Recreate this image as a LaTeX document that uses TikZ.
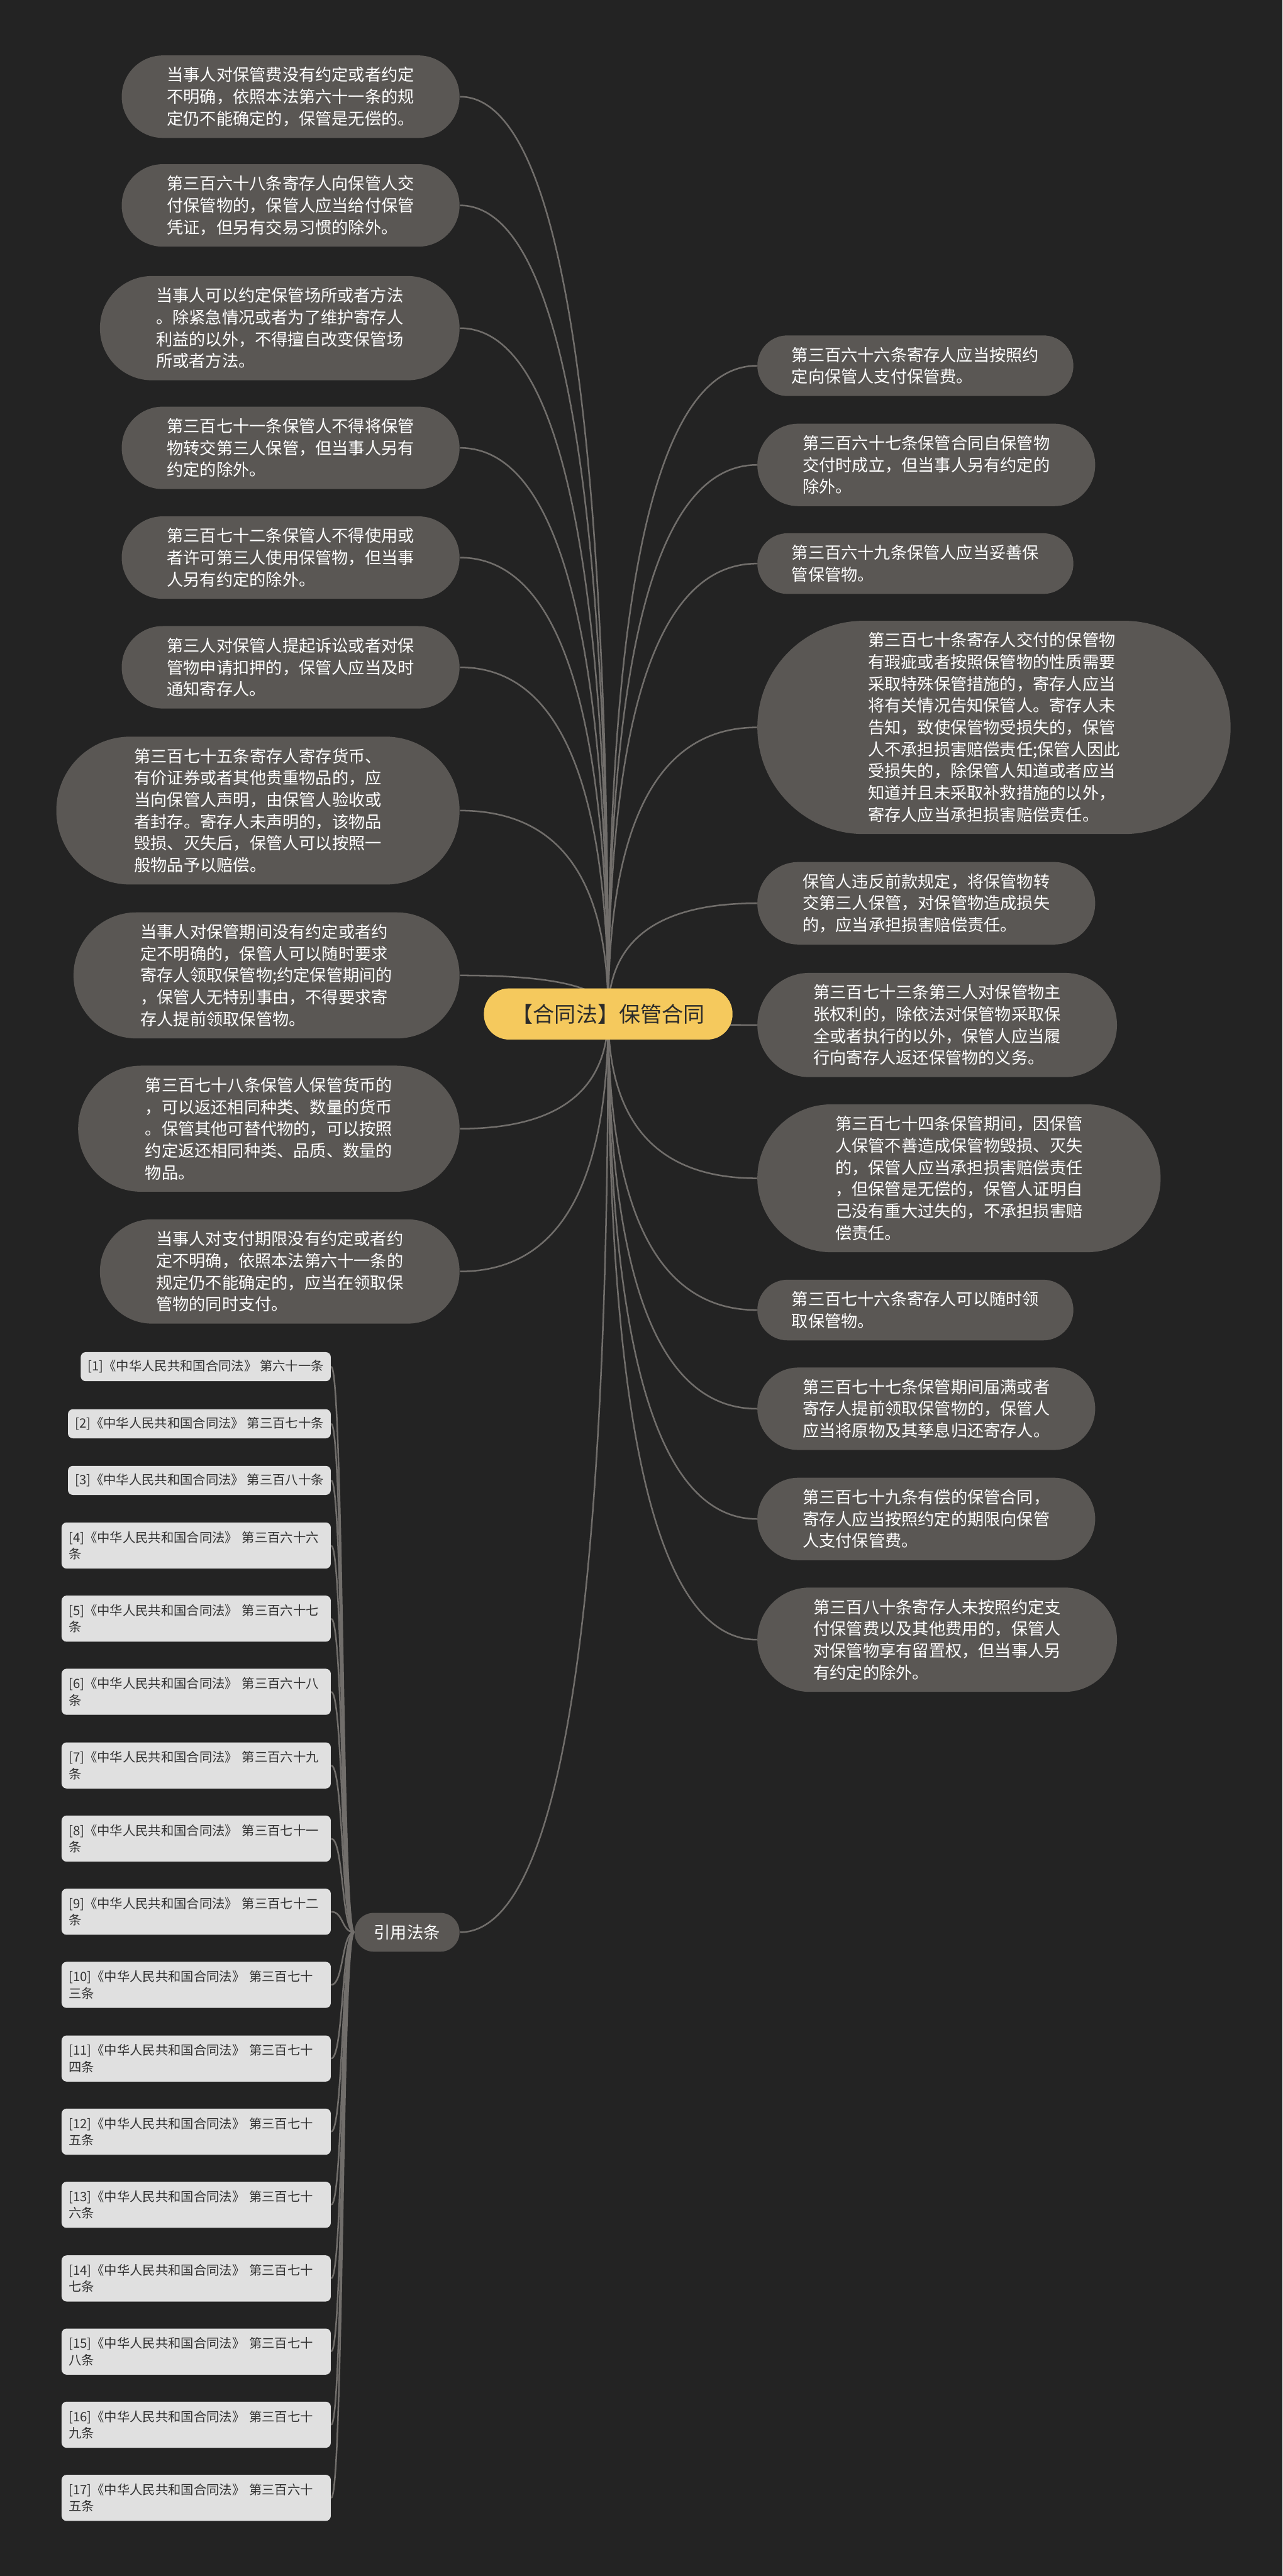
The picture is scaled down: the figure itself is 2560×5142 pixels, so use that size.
\documentclass[tikz,border=0pt]{standalone}
\usepackage{fontspec}
\usetikzlibrary{calc,backgrounds}
\newfontfamily\cjk{Noto Sans CJK SC}
\newcommand\leaffont{\cjk\fontsize{9.36pt}{12.38pt}\selectfont}
\newcommand\lawfont{\cjk\fontsize{7.26pt}{9.39pt}\selectfont}
\newcommand\topfont{\cjk\fontsize{12.15pt}{14pt}\selectfont}
\definecolor{bg}{HTML}{232323}
\definecolor{leafgray}{HTML}{5A5754}
\definecolor{linkgray}{HTML}{716E6B}
\definecolor{citegray}{HTML}{E0E0E0}
\definecolor{citeink}{HTML}{333333}
\definecolor{hubyellow}{HTML}{F5C95D}
\definecolor{hubink}{HTML}{2B2B2B}

\begin{document}
\begin{tikzpicture}[x=0.01cm,y=-0.01cm,
  leafbox/.style={fill=leafgray,text=white,font=\leaffont,align=left,inner ysep=0pt,
    minimum height={0.435cm*#1+0.34cm},inner xsep={0.2175cm*#1+0.25cm},
    rounded corners={0.2175cm*#1+0.168cm}},
  lawbox/.style={fill=citegray,text=citeink,font=\lawfont,align=left,anchor=east,
    rounded corners=0.1cm,inner xsep=0.14cm,inner ysep=0pt,minimum height=0.58cm},
  lawbox2/.style={lawbox,text width=5.09cm,minimum height=0.92cm},
  conn/.style={draw=linkgray,line width=0.9pt}]

    % centre
    \node[fill=hubyellow,text=hubink,font=\topfont,minimum width=4.96cm,minimum height=1.02cm,rounded corners=0.5cm] (hub) at (1214,2024) {【合同法】保管合同};

    % left branches
    \node[leafbox=3,anchor=east] (L1) at (918,193) {当事人对保管费没有约定或者约定\\不明确，依照本法第六十一条的规\\定仍不能确定的，保管是无偿的。};
    \node[leafbox=3,anchor=east] (L2) at (918,410) {第三百六十八条寄存人向保管人交\\付保管物的，保管人应当给付保管\\凭证，但另有交易习惯的除外。};
    \node[leafbox=4,anchor=east] (L3) at (918,655) {当事人可以约定保管场所或者方法\\。除紧急情况或者为了维护寄存人\\利益的以外，不得擅自改变保管场\\所或者方法。};
    \node[leafbox=3,anchor=east] (L4) at (918,894) {第三百七十一条保管人不得将保管\\物转交第三人保管，但当事人另有\\约定的除外。};
    \node[leafbox=3,anchor=east] (L5) at (918,1113) {第三百七十二条保管人不得使用或\\者许可第三人使用保管物，但当事\\人另有约定的除外。};
    \node[leafbox=3,anchor=east] (L6) at (918,1332) {第三人对保管人提起诉讼或者对保\\管物申请扣押的，保管人应当及时\\通知寄存人。};
    \node[leafbox=6,anchor=east] (L7) at (918,1618) {第三百七十五条寄存人寄存货币、\\有价证券或者其他贵重物品的，应\\当向保管人声明，由保管人验收或\\者封存。寄存人未声明的，该物品\\毁损、灭失后，保管人可以按照一\\般物品予以赔偿。};
    \node[leafbox=5,anchor=east] (L8) at (918,1947) {当事人对保管期间没有约定或者约\\定不明确的，保管人可以随时要求\\寄存人领取保管物;约定保管期间的\\，保管人无特别事由，不得要求寄\\存人提前领取保管物。};
    \node[leafbox=5,anchor=east] (L9) at (918,2253) {第三百七十八条保管人保管货币的\\，可以返还相同种类、数量的货币\\。保管其他可替代物的，可以按照\\约定返还相同种类、品质、数量的\\物品。};
    \node[leafbox=4,anchor=east] (L10) at (918,2538) {当事人对支付期限没有约定或者约\\定不明确，依照本法第六十一条的\\规定仍不能确定的，应当在领取保\\管物的同时支付。};

    % right branches
    \node[leafbox=2,anchor=west] (R1) at (1511,730) {第三百六十六条寄存人应当按照约\\定向保管人支付保管费。};
    \node[leafbox=3,anchor=west] (R2) at (1511,928) {第三百六十七条保管合同自保管物\\交付时成立，但当事人另有约定的\\除外。};
    \node[leafbox=2,anchor=west] (R3) at (1511,1125) {第三百六十九条保管人应当妥善保\\管保管物。};
    \node[leafbox=9,anchor=west] (R4) at (1511,1452) {第三百七十条寄存人交付的保管物\\有瑕疵或者按照保管物的性质需要\\采取特殊保管措施的，寄存人应当\\将有关情况告知保管人。寄存人未\\告知，致使保管物受损失的，保管\\人不承担损害赔偿责任;保管人因此\\受损失的，除保管人知道或者应当\\知道并且未采取补救措施的以外，\\寄存人应当承担损害赔偿责任。};
    \node[leafbox=3,anchor=west] (R5) at (1511,1803) {保管人违反前款规定，将保管物转\\交第三人保管，对保管物造成损失\\的，应当承担损害赔偿责任。};
    \node[leafbox=4,anchor=west] (R6) at (1511,2046) {第三百七十三条第三人对保管物主\\张权利的，除依法对保管物采取保\\全或者执行的以外，保管人应当履\\行向寄存人返还保管物的义务。};
    \node[leafbox=6,anchor=west] (R7) at (1511,2352) {第三百七十四条保管期间，因保管\\人保管不善造成保管物毁损、灭失\\的，保管人应当承担损害赔偿责任\\，但保管是无偿的，保管人证明自\\己没有重大过失的，不承担损害赔\\偿责任。};
    \node[leafbox=2,anchor=west] (R8) at (1511,2615) {第三百七十六条寄存人可以随时领\\取保管物。};
    \node[leafbox=3,anchor=west] (R9) at (1511,2812) {第三百七十七条保管期间届满或者\\寄存人提前领取保管物的，保管人\\应当将原物及其孳息归还寄存人。};
    \node[leafbox=3,anchor=west] (R10) at (1511,3032) {第三百七十九条有偿的保管合同，\\寄存人应当按照约定的期限向保管\\人支付保管费。};
    \node[leafbox=4,anchor=west] (R11) at (1511,3273) {第三百八十条寄存人未按照约定支\\付保管费以及其他费用的，保管人\\对保管物享有留置权，但当事人另\\有约定的除外。};

    % cited articles
    \node[leafbox=1,inner xsep=0.39cm,anchor=east] (law) at (918,3857) {引用法条};
    \node[lawbox] (c1) at (661,2728) {[1]《中华人民共和国合同法》 第六十一条};
    \node[lawbox] (c2) at (661,2842) {[2]《中华人民共和国合同法》 第三百七十条};
    \node[lawbox] (c3) at (661,2955) {[3]《中华人民共和国合同法》 第三百八十条};
    \node[lawbox2] (c4) at (661,3085) {[4]《中华人民共和国合同法》 第三百六十六\\条};
    \node[lawbox2] (c5) at (661,3231) {[5]《中华人民共和国合同法》 第三百六十七\\条};
    \node[lawbox2] (c6) at (661,3377) {[6]《中华人民共和国合同法》 第三百六十八\\条};
    \node[lawbox2] (c7) at (661,3524) {[7]《中华人民共和国合同法》 第三百六十九\\条};
    \node[lawbox2] (c8) at (661,3670) {[8]《中华人民共和国合同法》 第三百七十一\\条};
    \node[lawbox2] (c9) at (661,3816) {[9]《中华人民共和国合同法》 第三百七十二\\条};
    \node[lawbox2] (c10) at (661,3962) {[10]《中华人民共和国合同法》 第三百七十\\三条};
    \node[lawbox2] (c11) at (661,4109) {[11]《中华人民共和国合同法》 第三百七十\\四条};
    \node[lawbox2] (c12) at (661,4255) {[12]《中华人民共和国合同法》 第三百七十\\五条};
    \node[lawbox2] (c13) at (661,4401) {[13]《中华人民共和国合同法》 第三百七十\\六条};
    \node[lawbox2] (c14) at (661,4548) {[14]《中华人民共和国合同法》 第三百七十\\七条};
    \node[lawbox2] (c15) at (661,4694) {[15]《中华人民共和国合同法》 第三百七十\\八条};
    \node[lawbox2] (c16) at (661,4840) {[16]《中华人民共和国合同法》 第三百七十\\九条};
    \node[lawbox2] (c17) at (661,4986) {[17]《中华人民共和国合同法》 第三百六十\\五条};

    % curves behind the boxes
    \begin{pgfonlayer}{background}
    \fill[bg] (0,0) rectangle (2560,5142);
    \foreach \i in {1,...,10}
      \draw[conn] (hub.center) .. controls ($(hub.center)!0.667!(hub.center |- L\i.east)$) and ($(L\i.east)!0.667!(hub.center |- L\i.east)$) .. (L\i.east);
    \foreach \i in {1,...,11}
      \draw[conn] (hub.center) .. controls ($(hub.center)!0.667!(hub.center |- R\i.west)$) and ($(R\i.west)!0.667!(hub.center |- R\i.west)$) .. (R\i.west);
    \draw[conn] (hub.center) .. controls ($(hub.center)!0.667!(hub.center |- law.east)$) and ($(law.east)!0.667!(hub.center |- law.east)$) .. (law.east);
    \foreach \i in {1,...,17}
      \draw[conn] (law.west) .. controls +(-25,0) and +(25,0) .. (c\i.east);
    \end{pgfonlayer}

\end{tikzpicture}
\end{document}
